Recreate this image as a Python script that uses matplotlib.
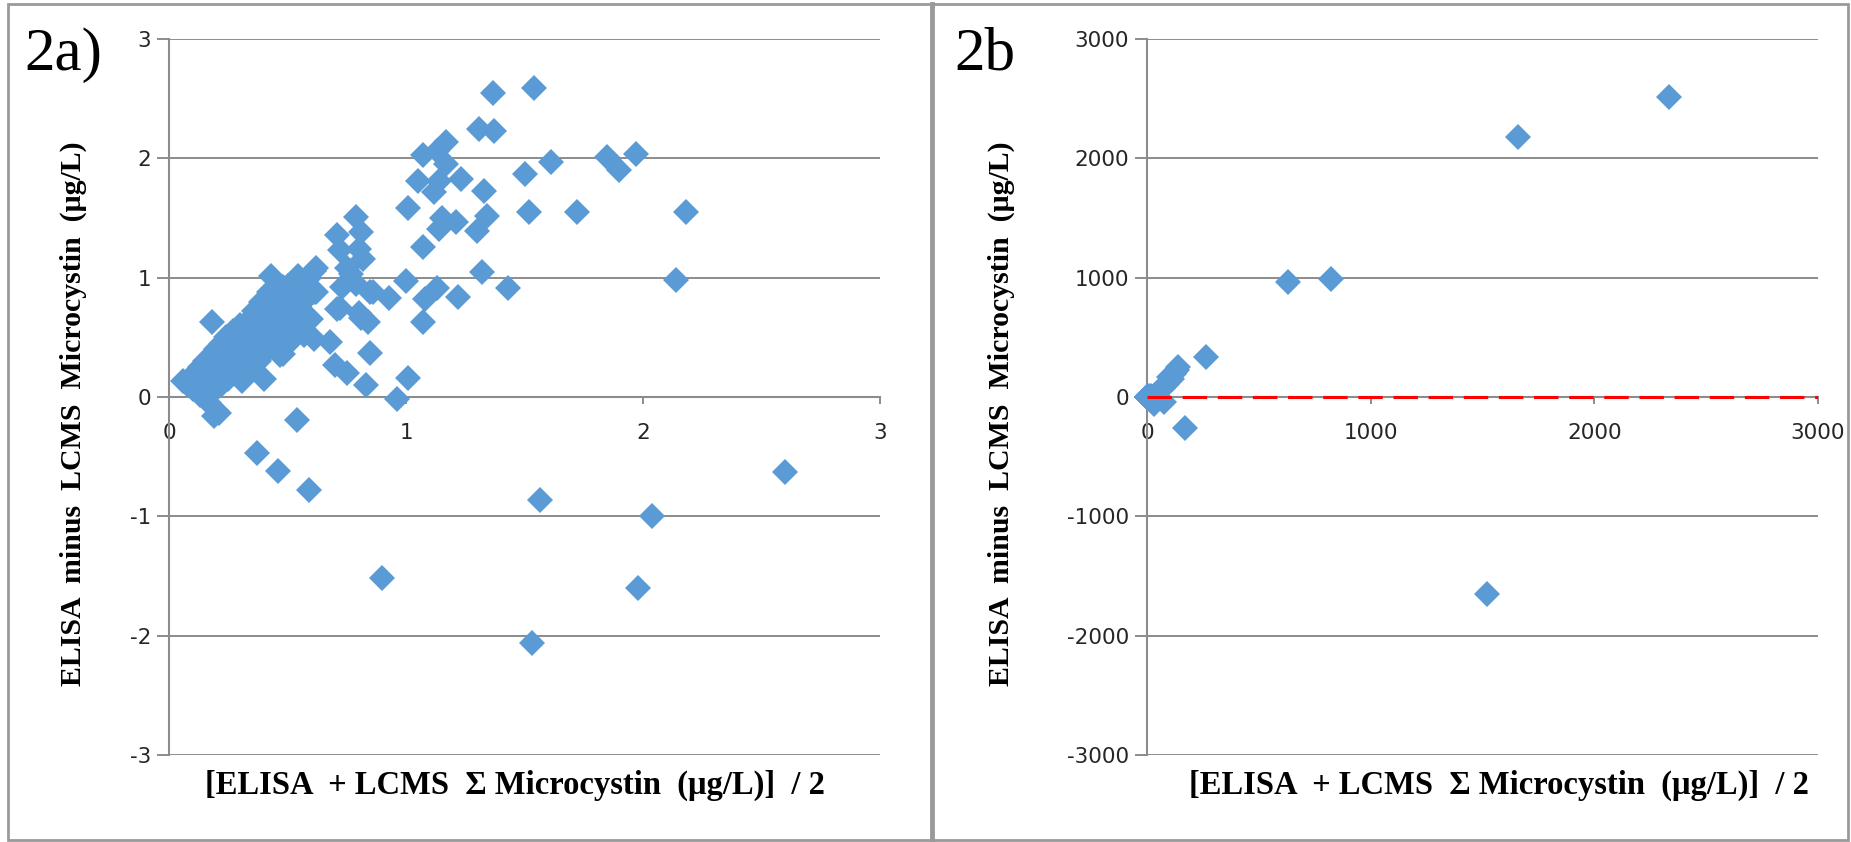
import numpy as np
import matplotlib.pyplot as plt
from matplotlib.patches import Rectangle
from matplotlib.lines import Line2D

plt.rcParams['axes.unicode_minus'] = False

# panel 2a: mean of ELISA and LCMS (x) vs difference (y), ug/L
mean_a = [1.365, 1.54, 1.31, 1.37, 1.07, 1.13, 1.17, 1.17, 1.05, 1.14, 1.23, 1.12, 1.33, 1.50,
          1.61, 1.85, 1.90, 1.97, 1.01, 1.15, 1.21, 1.34, 1.14, 1.30, 1.52, 1.72, 2.18,
          1.07, 1.32, 1.13, 1.08, 1.22, 1.43, 1.00, 1.07, 1.01, 2.14, 0.96, 0.85, 0.83, 0.93, 0.85,
          0.79, 0.81, 0.71, 0.72, 0.80, 0.82, 0.75, 0.77, 0.73, 0.79, 0.86, 0.80, 0.84, 0.72,
          0.70, 0.75, 0.61, 0.62, 0.545, 0.61, 0.50, 0.71, 0.81, 0.52, 0.61, 0.68, 0.48, 0.55,
          0.54, 0.37, 0.46, 0.59, 0.90, 1.565, 2.04, 1.98, 1.53, 2.60, 0.18, 0.19,
          0.06, 0.08, 0.09, 0.10, 0.11, 0.12, 0.13, 0.13, 0.14, 0.15, 0.15, 0.16, 0.17, 0.17,
          0.18, 0.18, 0.19, 0.20, 0.20, 0.21, 0.21, 0.22, 0.22, 0.23, 0.24, 0.24, 0.25, 0.26,
          0.26, 0.27, 0.28, 0.28, 0.29, 0.30, 0.30, 0.31, 0.32, 0.32, 0.33, 0.34, 0.34, 0.35,
          0.36, 0.36, 0.37, 0.38, 0.38, 0.39, 0.40, 0.40, 0.41, 0.42, 0.42, 0.43, 0.44, 0.45,
          0.46, 0.46, 0.47, 0.48, 0.49, 0.50, 0.51, 0.52, 0.53, 0.54, 0.55, 0.56, 0.57, 0.58,
          0.59, 0.60, 0.62]
diff_a = [2.55, 2.59, 2.25, 2.23, 2.03, 2.06, 2.14, 1.95, 1.81, 1.81, 1.83, 1.72, 1.73, 1.87,
          1.97, 2.01, 1.90, 2.04, 1.58, 1.50, 1.47, 1.52, 1.41, 1.39, 1.55, 1.55, 1.55,
          1.26, 1.05, 0.91, 0.82, 0.84, 0.91, 0.97, 0.63, 0.16, 0.98, -0.02, 0.37, 0.10, 0.83, 0.88,
          1.51, 1.38, 1.36, 1.23, 1.24, 1.16, 1.08, 1.03, 0.92, 0.95, 0.88, 0.70, 0.63, 0.75,
          0.27, 0.20, 1.06, 1.08, 1.01, 0.88, 0.93, 0.74, 0.66, 0.68, 0.49, 0.46, 0.36, 0.76,
          -0.19, -0.47, -0.62, -0.78, -1.52, -0.86, -1.00, -1.60, -2.06, -0.63, 0.63, -0.16,
          0.13, 0.10, 0.16, 0.07, 0.20, 0.12, 0.02, 0.25, 0.17, 0.08, 0.30, 0.22, -0.05, 0.14,
          0.35, 0.27, 0.05, 0.19, 0.40, 0.30, -0.13, 0.10, 0.44, 0.24, 0.35, 0.50, 0.15, 0.42,
          0.28, 0.55, 0.20, 0.37, 0.48, 0.60, 0.30, 0.13, 0.42, 0.55, 0.35, 0.65, 0.24, 0.50,
          0.40, 0.72, 0.58, 0.30, 0.47, 0.80, 0.62, 0.15, 0.38, 0.52, 0.88, 1.01, 0.70, 0.45,
          0.60, 0.80, 0.35, 0.92, 0.55, 0.70, 0.85, 0.48, 0.98, 0.60, 0.76, 0.90, 0.52, 0.82,
          1.00, 0.65, 0.88]

# panel 2b: extra high-concentration samples (all 2a samples are included too)
mean_b_extra = [2333, 1660, 631, 821, 1520, 266, 168, 140, 125, 135, 120, 110, 100, 90, 75,
                60, 50, 35, 20, 10, 5, 30, 75, 40]
diff_b_extra = [2511, 2175, 964, 991, -1650, 336, -260, 255, 210, 230, 190, 150, 170, 110, 80,
                60, 40, 20, 10, 5, 3, -60, -40, -30]
mean_b = mean_a + mean_b_extra
diff_b = diff_a + diff_b_extra

blue = '#5B9BD5'
grid_col = '#8C8C8C'
serif = ['Liberation Serif', 'DejaVu Serif']
sans = ['DejaVu Sans']

W, H = 1851, 842
fig = plt.figure(figsize=(W / 100, H / 100), dpi=100)

def setup(ax, lim, ticks):
    ax.set_xlim(0, lim)
    ax.set_ylim(-lim, lim)
    ax.set_yticks(ticks)
    ax.set_xticks([t for t in ticks if t >= 0])
    for s in ['top', 'right']:
        ax.spines[s].set_visible(False)
    ax.spines['left'].set_color(grid_col)
    ax.spines['left'].set_linewidth(1.5)
    ax.spines['bottom'].set_position(('data', 0))
    ax.spines['bottom'].set_color(grid_col)
    ax.spines['bottom'].set_linewidth(1.5)
    ax.yaxis.grid(True, color=grid_col, lw=1.4)
    ax.set_axisbelow(True)
    ax.tick_params(axis='y', length=9, width=1.4, color=grid_col, pad=4,
                   labelsize=15.5, labelcolor='#262626')
    ax.tick_params(axis='x', length=5, width=1.4, color=grid_col, pad=14,
                   labelsize=15.5, labelcolor='#262626')
    for lab in ax.get_xticklabels() + ax.get_yticklabels():
        lab.set_family(sans)

ax1 = fig.add_axes([169 / W, 1 - 755 / H, (880 - 169) / W, (755 - 39) / H])
setup(ax1, 3, [-3, -2, -1, 0, 1, 2, 3])
ax1.plot(mean_a, diff_a, ls='none', marker='D', ms=13, mew=0, color=blue, clip_on=False, zorder=3)

ax2 = fig.add_axes([1147 / W, 1 - 755 / H, (1818 - 1147) / W, (755 - 39) / H])
setup(ax2, 3000, [-3000, -2000, -1000, 0, 1000, 2000, 3000])
ax2.plot(mean_b, diff_b, ls='none', marker='D', ms=13, mew=0, color=blue, clip_on=False, zorder=3)
ax2.plot([0, 3000], [0, 0], color='#FF0000', lw=2.2, ls=(0, (8, 3.5)), zorder=4)

ylab = 'ELISA  minus  LCMS  Microcystin  (\u03bcg/L)'
xlab = '[ELISA  + LCMS  \u03a3 Microcystin  (\u03bcg/L)]  / 2'
fig.text(73 / W, 1 - 414 / H, ylab, rotation=90, ha='center', va='center',
         fontsize=21.5, fontweight='bold', family=serif)
fig.text(1001 / W, 1 - 414 / H, ylab, rotation=90, ha='center', va='center',
         fontsize=21.5, fontweight='bold', family=serif)
fig.text(515 / W, 1 - 785 / H, xlab, ha='center', va='center',
         fontsize=23.5, fontweight='bold', family=serif)
fig.text(1499 / W, 1 - 785 / H, xlab, ha='center', va='center',
         fontsize=23.5, fontweight='bold', family=serif)

fig.text(24 / W, 1 - 55 / H, '2a)', ha='left', va='center', fontsize=44, family=serif)
fig.text(954 / W, 1 - 55 / H, '2b', ha='left', va='center', fontsize=44, family=serif)

# frame round the figure and the divider between the panels
fig.add_artist(Rectangle((8 / W, 2 / H), (W - 11) / W, (H - 6) / H, transform=fig.transFigure,
                         fill=False, ec='#9A9A9A', lw=2))
fig.add_artist(Line2D([932 / W, 932 / W], [2 / H, 1 - 4 / H], transform=fig.transFigure,
                      color='#9A9A9A', lw=3.5))

fig.savefig('out.png', dpi=100)
